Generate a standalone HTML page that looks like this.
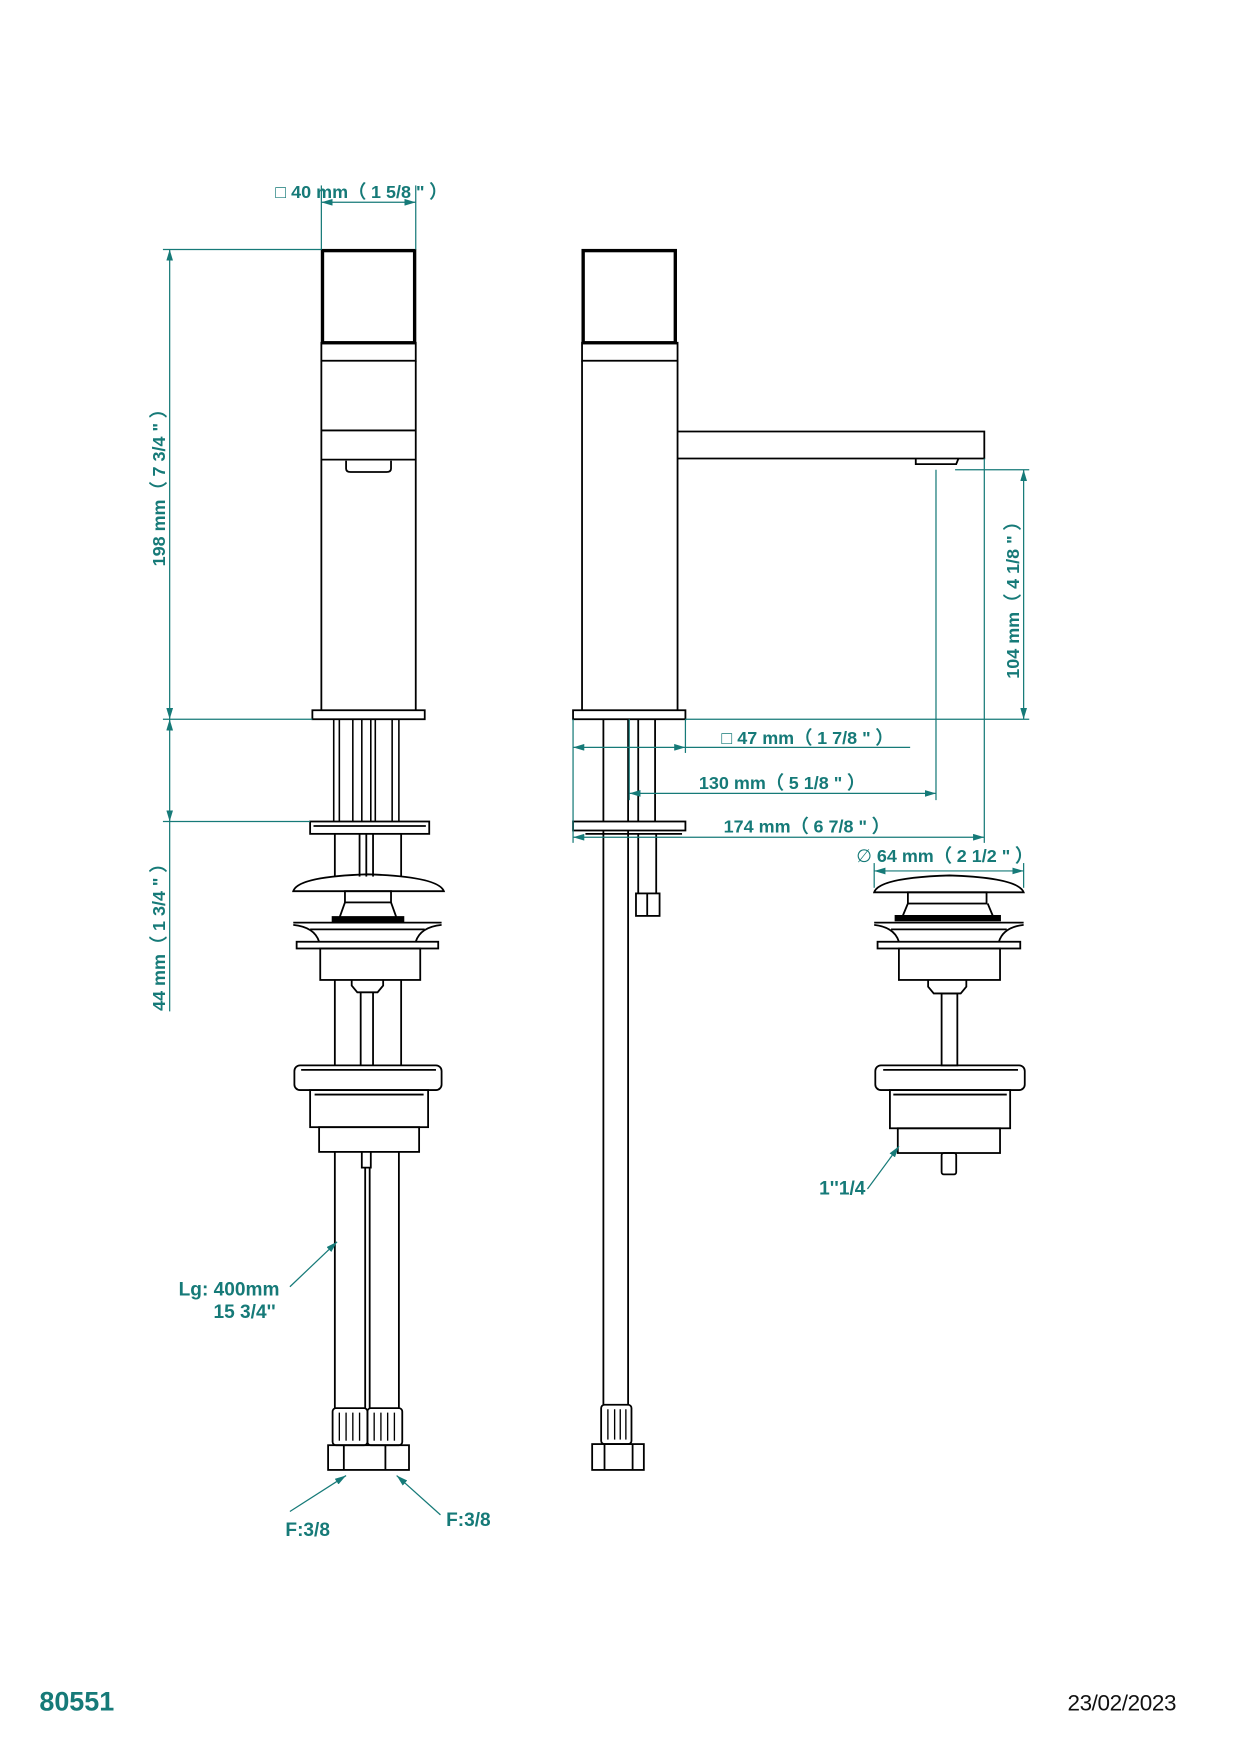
<!DOCTYPE html>
<html><head><meta charset="utf-8"><style>
html,body{margin:0;padding:0;background:#fff;}
svg{display:block}
text{font-family:"Liberation Sans",sans-serif;font-weight:bold;fill:#167a78;}
</style></head><body>
<svg width="1236" height="1752" viewBox="0 0 1100 1559" preserveAspectRatio="none" xmlns="http://www.w3.org/2000/svg">
<defs>
<marker id="a" viewBox="0 0 10 6" refX="10" refY="3" markerWidth="10" markerHeight="6" orient="auto-start-reverse" markerUnits="userSpaceOnUse"><path d="M0,0L10,3L0,6z" fill="#167a78"/></marker>
</defs>
<g fill="none" stroke="#000" stroke-width="1.6">
<rect x="287" y="223" width="82" height="82" stroke-width="3"/>
<rect x="286" y="305" width="84" height="16"/>
<line x1="286" y1="321" x2="286" y2="632"/><line x1="370" y1="321" x2="370" y2="632"/>
<line x1="286" y1="383" x2="370" y2="383"/><line x1="286" y1="409" x2="370" y2="409"/>
<path d="M308,410 v7 q0,3 4,3 h32 q4,0 4,-3 v-7"/>
<rect x="278" y="632" width="100" height="8"/>
<g stroke-width="1.4">
<line x1="297" y1="640" x2="297" y2="731"/><line x1="302" y1="640" x2="302" y2="731"/>
<line x1="314" y1="640" x2="314" y2="731"/><line x1="322" y1="640" x2="322" y2="731"/>
<line x1="330" y1="640" x2="330" y2="731"/><line x1="334" y1="640" x2="334" y2="731"/>
<line x1="349" y1="640" x2="349" y2="731"/><line x1="355" y1="640" x2="355" y2="731"/>
</g>
<rect x="276" y="731" width="106" height="11"/><line x1="279" y1="735" x2="379" y2="735"/>
<line x1="298" y1="742" x2="298" y2="780"/><line x1="357" y1="742" x2="357" y2="780"/>
<line x1="320" y1="742" x2="320" y2="780"/><line x1="332" y1="742" x2="332" y2="780"/><line x1="326" y1="742" x2="326" y2="780"/>
<path d="M261,793 Q265,780 327,778 Q390,780 395,793 Z"/>
<rect x="307" y="793" width="41" height="10"/>
<path d="M307,803 L302,817 L353,817 L348,803"/>
<rect x="296" y="816" width="63" height="4" fill="#000"/>
<path d="M261,821 h132 M261,823 Q280,825 284,838 M393,823 Q374,825 370,838"/>
<line x1="276" y1="827" x2="378" y2="827"/>
<rect x="264" y="838" width="126" height="6"/>
<rect x="285" y="844" width="89" height="28"/>
<path d="M313,872 v5 l5,6 h18 l5,-6 v-5"/>
<line x1="298" y1="872" x2="298" y2="948"/><line x1="357" y1="872" x2="357" y2="948"/>
<line x1="321" y1="883" x2="321" y2="948"/><line x1="332" y1="883" x2="332" y2="948"/>
<rect x="262" y="948" width="131" height="22" rx="5"/>
<line x1="268" y1="952" x2="388" y2="952"/>
<rect x="276" y="970" width="105" height="33"/>
<line x1="280" y1="974" x2="377" y2="974"/>
<rect x="284" y="1003" width="89" height="22"/>
<path d="M322,1025 v14 h8 v-14"/>
<line x1="298" y1="1025" x2="298" y2="1253"/><line x1="355" y1="1025" x2="355" y2="1253"/>
<line x1="325" y1="1039" x2="325" y2="1253"/><line x1="329" y1="1039" x2="329" y2="1253"/>
<rect x="296" y="1253" width="31" height="33" rx="3"/><rect x="327" y="1253" width="31" height="33" rx="3"/>
<g stroke-width="1.2"><line x1="302" y1="1257" x2="302" y2="1282"/><line x1="308" y1="1257" x2="308" y2="1282"/><line x1="314" y1="1257" x2="314" y2="1282"/><line x1="320" y1="1257" x2="320" y2="1282"/>
<line x1="333" y1="1257" x2="333" y2="1282"/><line x1="339" y1="1257" x2="339" y2="1282"/><line x1="345" y1="1257" x2="345" y2="1282"/><line x1="351" y1="1257" x2="351" y2="1282"/></g>
<rect x="292" y="1286" width="72" height="22"/><line x1="306" y1="1286" x2="306" y2="1308"/><line x1="343" y1="1286" x2="343" y2="1308"/>

<rect x="519" y="223" width="82" height="82" stroke-width="3"/>
<rect x="518" y="305" width="85" height="16"/>
<line x1="518" y1="321" x2="518" y2="632"/><line x1="603" y1="321" x2="603" y2="632"/>
<path d="M603,384 H876 V408 H603"/>
<path d="M815,408 v5 h36 l2,-5"/>
<rect x="510" y="632" width="100" height="8"/>
<line x1="537" y1="640" x2="537" y2="731"/><line x1="559" y1="640" x2="559" y2="731"/>
<line x1="568" y1="640" x2="568" y2="731"/><line x1="583" y1="640" x2="583" y2="731"/>
<rect x="510" y="731" width="100" height="8"/>
<line x1="521" y1="742" x2="607" y2="742"/>
<line x1="537" y1="739" x2="537" y2="1250"/><line x1="559" y1="739" x2="559" y2="1250"/>
<line x1="568" y1="742" x2="568" y2="795"/><line x1="584" y1="742" x2="584" y2="795"/>
<rect x="566" y="795" width="21" height="20"/><line x1="576" y1="795" x2="576" y2="815"/>
<rect x="535" y="1250" width="27" height="35" rx="3"/>
<g stroke-width="1.2"><line x1="541" y1="1254" x2="541" y2="1281"/><line x1="547" y1="1254" x2="547" y2="1281"/><line x1="552" y1="1254" x2="552" y2="1281"/><line x1="557" y1="1254" x2="557" y2="1281"/></g>
<rect x="527" y="1285" width="46" height="23"/><line x1="538" y1="1285" x2="538" y2="1308"/><line x1="563" y1="1285" x2="563" y2="1308"/>

<path d="M778,794 Q782,781 845,779 Q906,781 911,794 Z"/>
<rect x="808" y="794" width="70" height="10"/>
<path d="M808,804 L803,816 L884,816 L879,804"/>
<rect x="797" y="815" width="93" height="4" fill="#000"/>
<path d="M778,821 h133 M778,823 Q796,825 800,838 M911,823 Q893,825 889,838"/>
<line x1="793" y1="827" x2="896" y2="827"/>
<rect x="781" y="838" width="127" height="6"/>
<rect x="800" y="844" width="90" height="28"/>
<path d="M826,872 v6 l5,6 h24 l5,-6 v-6"/>
<rect x="838" y="884" width="14" height="64"/>
<rect x="779" y="948" width="133" height="22" rx="5"/>
<line x1="786" y1="952" x2="906" y2="952"/>
<rect x="792" y="970" width="107" height="34"/>
<line x1="795" y1="974" x2="896" y2="974"/>
<rect x="799" y="1004" width="91" height="22"/>
<rect x="838" y="1026" width="13" height="19" rx="2"/>
</g>

<g stroke="#167a78" stroke-width="1.1" fill="none">
<line x1="286" y1="165" x2="286" y2="222"/><line x1="370" y1="165" x2="370" y2="222"/>
<line x1="286" y1="180" x2="370" y2="180" marker-start="url(#a)" marker-end="url(#a)"/>
<line x1="145" y1="222" x2="286" y2="222"/><line x1="145" y1="640" x2="278" y2="640"/>
<line x1="145" y1="731" x2="276" y2="731"/>
<line x1="151" y1="222" x2="151" y2="640" marker-start="url(#a)" marker-end="url(#a)"/>
<line x1="151" y1="640" x2="151" y2="731" marker-start="url(#a)" marker-end="url(#a)"/>
<line x1="151" y1="731" x2="151" y2="900"/>
<line x1="850" y1="418" x2="916" y2="418"/><line x1="610" y1="640" x2="916" y2="640"/>
<line x1="911" y1="418" x2="911" y2="640" marker-start="url(#a)" marker-end="url(#a)"/>
<line x1="510" y1="640" x2="510" y2="750"/><line x1="610" y1="640" x2="610" y2="670"/>
<line x1="510" y1="665" x2="610" y2="665" marker-start="url(#a)" marker-end="url(#a)"/><line x1="610" y1="665" x2="810" y2="665"/>
<line x1="560" y1="640" x2="560" y2="712"/>
<line x1="833" y1="418" x2="833" y2="712"/>
<line x1="560" y1="706" x2="833" y2="706" marker-start="url(#a)" marker-end="url(#a)"/>
<line x1="876" y1="408" x2="876" y2="750"/>
<line x1="510" y1="745" x2="876" y2="745" marker-start="url(#a)" marker-end="url(#a)"/>
<line x1="778" y1="768" x2="778" y2="790"/><line x1="911" y1="768" x2="911" y2="790"/>
<line x1="778" y1="775" x2="911" y2="775" marker-start="url(#a)" marker-end="url(#a)"/>
<line x1="258" y1="1145" x2="300" y2="1105" marker-end="url(#a)"/>
<line x1="258" y1="1345" x2="308" y2="1313" marker-end="url(#a)"/>
<line x1="392" y1="1348" x2="353" y2="1313" marker-end="url(#a)"/>
<line x1="772" y1="1058" x2="800" y2="1020" marker-end="url(#a)"/>
</g>
<g font-size="16">
<text x="245" y="176"><tspan font-weight="normal">□</tspan> 40 mm（ 1 5/8 " ）</text>
<text transform="translate(147,430) rotate(-90)" text-anchor="middle">198 mm（ 7 3/4 " ）</text>
<text transform="translate(147,830) rotate(-90)" text-anchor="middle">44 mm（ 1 3/4 " ）</text>
<text transform="translate(907,530) rotate(-90)" text-anchor="middle">104 mm（ 4 1/8 " ）</text>
<text x="642" y="662"><tspan font-weight="normal">□</tspan>  47 mm（ 1 7/8 " ）</text>
<text x="622" y="702">130 mm（ 5 1/8 " ）</text>
<text x="644" y="741">174 mm（ 6 7/8 " ）</text>
<text x="762" y="767"><tspan font-weight="normal">∅</tspan> 64 mm（ 2 1/2 " ）</text>
</g>
<g font-size="17">
<text x="159" y="1153">Lg: 400mm</text>
<text x="190" y="1173">15 3/4''</text>
<text x="254" y="1367">F:3/8</text>
<text x="397" y="1358">F:3/8</text>
<text x="729" y="1063">1''1/4</text>
</g>
<text x="35" y="1522" font-size="24">80551</text>
<text x="950" y="1522" font-size="20" style="font-weight:normal;fill:#111;font-family:'Liberation Sans Narrow','Liberation Sans',sans-serif" textLength="97">23/02/2023</text>
</svg>
</body></html>
